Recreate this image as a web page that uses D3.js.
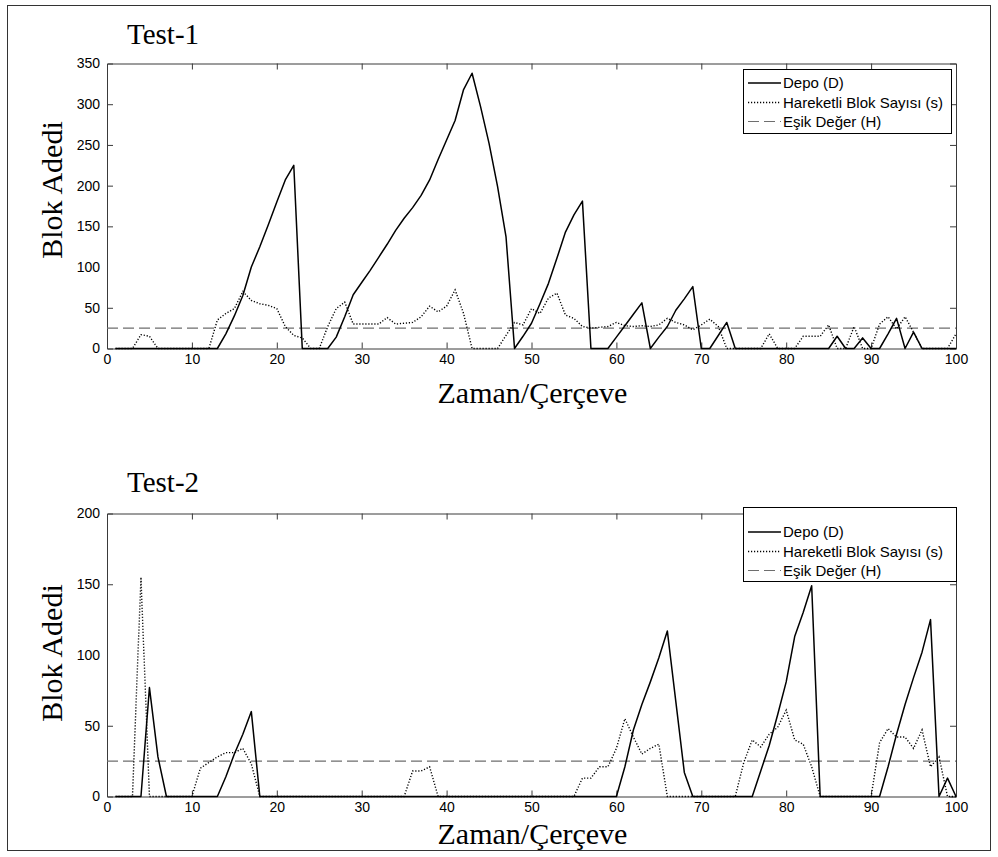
<!DOCTYPE html>
<html>
<head>
<meta charset="utf-8">
<script src="https://cdn.jsdelivr.net/npm/d3@7"></script>
<style>
  html, body { margin: 0; padding: 0; background: #fff; }
  svg { display: block; }
</style>
</head>
<body>
<svg id="fig" width="998" height="857"></svg>
<script>
// Frame numbers 1..100 (x axis: Zaman/Çerçeve)
const frames = d3.range(1, 101);

// Test-1: Depo (D)
const test1Depo = [
  0, 0, 0, 0, 0, 0, 0, 0, 0, 0,
  0, 0, 0, 18, 40, 65, 100, 125, 152, 180,
  207, 225, 0, 0, 0, 0, 14, 39, 66, 81,
  96, 112, 128, 145, 160, 173, 188, 207, 232, 256,
  280, 318, 338, 297, 252, 199, 137, 0, 15, 31,
  55, 80, 111, 143, 164, 181, 0, 0, 0, 14,
  28, 42, 56, 0, 14, 27, 47, 61, 76, 0,
  0, 16, 32, 0, 0, 0, 0, 0, 0, 0,
  0, 0, 0, 0, 0, 15, 0, 0, 13, 0,
  0, 18, 37, 0, 20, 0, 0, 0, 0, 0
];
// Test-1: Hareketli Blok Sayısı (s)
const test1Hareketli = [
  0, 0, 0, 17, 15, 0, 0, 0, 0, 0,
  0, 0, 35, 43, 49, 70, 59, 55, 53, 49,
  27, 16, 13, 0, 0, 27, 49, 57, 30, 30,
  30, 30, 38, 30, 31, 32, 39, 52, 45, 52,
  72, 43, 0, 0, 0, 0, 16, 32, 29, 49,
  43, 62, 68, 41, 37, 27, 25, 26, 27, 32,
  28, 27, 28, 27, 29, 37, 32, 29, 23, 29,
  36, 27, 0, 0, 0, 0, 0, 18, 0, 0,
  0, 15, 15, 15, 29, 0, 0, 27, 0, 0,
  30, 39, 24, 39, 20, 0, 0, 0, 0, 18
];
const test1Esik = 25;

// Test-2: Depo (D)
const test2Depo = [
  0, 0, 0, 0, 77, 28, 0, 0, 0, 0,
  0, 0, 0, 14, 30, 44, 60, 0, 0, 0,
  0, 0, 0, 0, 0, 0, 0, 0, 0, 0,
  0, 0, 0, 0, 0, 0, 0, 0, 0, 0,
  0, 0, 0, 0, 0, 0, 0, 0, 0, 0,
  0, 0, 0, 0, 0, 0, 0, 0, 0, 0,
  21, 47, 65, 81, 98, 117, 67, 17, 0, 0,
  0, 0, 0, 0, 0, 0, 18, 36, 58, 81,
  113, 130, 149, 0, 0, 0, 0, 0, 0, 0,
  0, 21, 44, 65, 84, 102, 125, 0, 13, 0
];
// Test-2: Hareketli Blok Sayısı (s)
const test2Hareketli = [
  0, 0, 0, 155, 0, 0, 0, 0, 0, 0,
  20, 24, 28, 31, 31, 34, 23, 0, 0, 0,
  0, 0, 0, 0, 0, 0, 0, 0, 0, 0,
  0, 0, 0, 0, 0, 18, 18, 21, 0, 0,
  0, 0, 0, 0, 0, 0, 0, 0, 0, 0,
  0, 0, 0, 0, 0, 13, 13, 21, 21, 34,
  55, 42, 30, 34, 37, 0, 0, 0, 0, 0,
  0, 0, 0, 0, 24, 40, 35, 44, 49, 61,
  40, 37, 21, 0, 0, 0, 0, 0, 0, 0,
  38, 48, 42, 42, 34, 47, 21, 28, 0, 0
];
const test2Esik = 25;

// Axis ticks
const xTicks = [0, 10, 20, 30, 40, 50, 60, 70, 80, 90, 100];
const test1YTicks = [0, 50, 100, 150, 200, 250, 300, 350];
const test2YTicks = [0, 50, 100, 150, 200];

const legendLabels = ["Depo (D)", "Hareketli Blok Sayısı (s)", "Eşik Değer (H)"];

const svg = d3.select("#fig");

// outer frame
svg.append("rect")
  .attr("x", 7.5).attr("y", 5.5)
  .attr("width", 983).attr("height", 845)
  .attr("fill", "none").attr("stroke", "#333").attr("stroke-width", 1);

const SERIF = "'Liberation Serif', 'Times New Roman', serif";
const SANS = "'Liberation Sans', Arial, sans-serif";

function drawPanel(cfg) {
  const { top, bottom, left, right, yMax, yTicks, depo, hareketli, esik, title,
          titleY, yLabelY, xLabelY, legendBox } = cfg;

  const x = d3.scaleLinear().domain([0, 100]).range([left, right]);
  const y = d3.scaleLinear().domain([0, yMax]).range([bottom, top]);

  const g = svg.append("g");

  // title
  g.append("text")
    .attr("x", 127).attr("y", titleY)
    .attr("font-family", SERIF).attr("font-size", 29)
    .attr("fill", "#000")
    .text(title);

  // axes (ticks point inward, mirrored on top/right)
  const tickLen = 6;
  const axisColor = "#3a3a3a";

  const xb = d3.axisBottom(x).tickValues(xTicks).tickSize(-tickLen).tickPadding(6)
    .tickFormat(d3.format("d"));
  const xt = d3.axisTop(x).tickValues(xTicks).tickSize(-tickLen).tickFormat("");
  const yl = d3.axisLeft(y).tickValues(yTicks).tickSize(-tickLen).tickPadding(7)
    .tickFormat(d3.format("d"));
  const yr = d3.axisRight(y).tickValues(yTicks).tickSize(-tickLen).tickFormat("");

  function styleAxis(sel) {
    sel.select(".domain").attr("stroke", axisColor);
    sel.selectAll(".tick line").attr("stroke", axisColor);
    sel.selectAll("text").attr("font-family", SANS).attr("font-size", 14).attr("fill", "#000");
  }

  g.append("g").attr("transform", `translate(0,${bottom})`).call(xb).call(styleAxis);
  g.append("g").attr("transform", `translate(0,${top})`).call(xt).call(styleAxis);
  g.append("g").attr("transform", `translate(${left},0)`).call(yl).call(styleAxis);
  g.append("g").attr("transform", `translate(${right},0)`).call(yr).call(styleAxis);

  // hide the end ticks that would sit on the box corners
  g.selectAll(".tick line").filter(function(d) {
    return d === 0 || d === 100 || d === yMax;
  }).attr("stroke", "none");

  // axis titles
  g.append("text")
    .attr("x", (left + right) / 2 + 1).attr("y", xLabelY)
    .attr("text-anchor", "middle")
    .attr("font-family", SERIF).attr("font-size", 30)
    .text("Zaman/Çerçeve");

  g.append("text")
    .attr("transform", `translate(61.5,${yLabelY}) rotate(-90)`)
    .attr("text-anchor", "middle")
    .attr("font-family", SERIF).attr("font-size", 30)
    .text("Blok Adedi");

  // series
  const line = (vals) => d3.line()
    .x((d, i) => x(frames[i]))
    .y(d => y(d))(vals);

  // threshold H
  g.append("line")
    .attr("x1", x(0)).attr("x2", x(100))
    .attr("y1", y(esik)).attr("y2", y(esik))
    .attr("stroke", "#6e6e6e").attr("stroke-width", 1.2)
    .attr("stroke-dasharray", "11,5");

  g.append("path")
    .attr("d", line(hareketli))
    .attr("fill", "none").attr("stroke", "#000").attr("stroke-width", 1.4)
    .attr("stroke-dasharray", "1.2,1.8");

  g.append("path")
    .attr("d", line(depo))
    .attr("fill", "none").attr("stroke", "#000").attr("stroke-width", 1.5)
    .attr("stroke-linejoin", "round");

  // legend
  const lb = legendBox;
  const lg = g.append("g");
  lg.append("rect")
    .attr("x", lb.x + 0.5).attr("y", lb.y + 0.5)
    .attr("width", lb.w).attr("height", lb.h)
    .attr("fill", "#fff").attr("stroke", "#000").attr("stroke-width", 1);

  const styles = [
    { stroke: "#000", dash: null, width: 1.5 },
    { stroke: "#000", dash: "1.2,1.8", width: 1.4 },
    { stroke: "#6e6e6e", dash: "11,5", width: 1.2 }
  ];
  legendLabels.forEach((lab, i) => {
    const ry = lb.rows[i];
    const s = styles[i];
    const ln = lg.append("line")
      .attr("x1", lb.x + 5).attr("x2", lb.x + 38)
      .attr("y1", ry).attr("y2", ry)
      .attr("stroke", s.stroke).attr("stroke-width", s.width);
    if (s.dash) ln.attr("stroke-dasharray", s.dash);
    lg.append("text")
      .attr("x", lb.x + 40).attr("y", ry)
      .attr("dy", "0.35em")
      .attr("font-family", SANS).attr("font-size", 15)
      .text(lab);
  });
}

drawPanel({
  top: 63.5, bottom: 348.5, left: 107, right: 956,
  yMax: 350, yTicks: test1YTicks,
  depo: test1Depo, hareketli: test1Hareketli, esik: test1Esik,
  title: "Test-1", titleY: 44, yLabelY: 190, xLabelY: 403,
  legendBox: { x: 743, y: 69, w: 208, h: 64, rows: [83, 102.5, 121.5] }
});

drawPanel({
  top: 513.5, bottom: 796.5, left: 107, right: 956,
  yMax: 200, yTicks: test2YTicks,
  depo: test2Depo, hareketli: test2Hareketli, esik: test2Esik,
  title: "Test-2", titleY: 492, yLabelY: 653, xLabelY: 843.5,
  legendBox: { x: 743, y: 507, w: 213, h: 74, rows: [532, 551.5, 570.5] }
});
</script>
</body>
</html>
